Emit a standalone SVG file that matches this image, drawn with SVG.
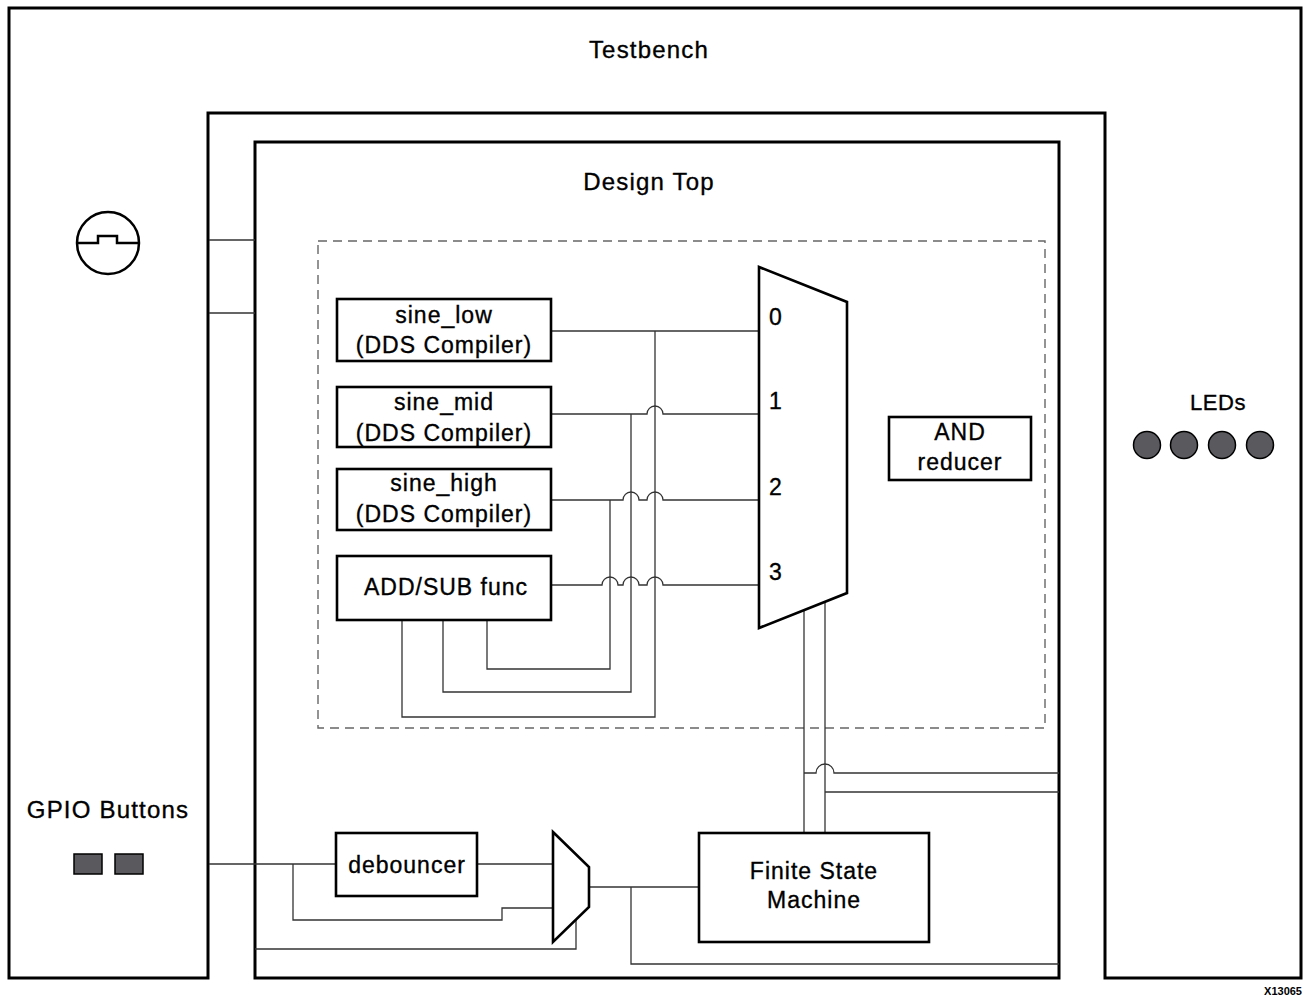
<svg xmlns="http://www.w3.org/2000/svg" width="1305" height="998" viewBox="0 0 1305 998">
<style>
.frame{fill:none;stroke:#000;stroke-width:3}
.box{fill:#fff;stroke:#000;stroke-width:2.6}
.wire{fill:none;stroke:#333;stroke-width:1.3}
.dash{fill:none;stroke:#666;stroke-width:1.4;stroke-dasharray:9 6}
.t{font-family:"Liberation Sans",Arial,sans-serif;font-size:23px;letter-spacing:1px;fill:#000;stroke:#000;stroke-width:0.35;text-anchor:middle}
.title{font-family:"Liberation Sans",Arial,sans-serif;font-size:24px;letter-spacing:1.2px;fill:#000;stroke:#000;stroke-width:0.35;text-anchor:middle}
.led{fill:#5a5a5e;stroke:#000;stroke-width:1.5}
</style>
<rect width="1305" height="998" fill="#fff"/>
<g id="testbench">
<path class="frame" d="M9,8 H1301 V978 H1105 V113 H208 V978 H9 Z"/>
<text class="title" x="649" y="58">Testbench</text>
</g>
<g id="clock">
<circle cx="108" cy="243" r="31" fill="none" stroke="#000" stroke-width="2.5"/>
<path d="M77,243 H98 V236 H117 V243 H139" fill="none" stroke="#000" stroke-width="2.5"/>
</g>
<g id="leds">
<text class="title" style="font-size:22px;letter-spacing:0.5px" x="1218" y="410">LEDs</text>
<circle class="led" cx="1147" cy="445" r="13.5"/>
<circle class="led" cx="1184" cy="445" r="13.5"/>
<circle class="led" cx="1222" cy="445" r="13.5"/>
<circle class="led" cx="1260" cy="445" r="13.5"/>
</g>
<g id="gpio">
<text class="title" x="108" y="818">GPIO Buttons</text>
<rect x="74" y="854" width="28" height="20" fill="#5a5a5e" stroke="#000" stroke-width="1.5"/>
<rect x="115" y="854" width="28" height="20" fill="#5a5a5e" stroke="#000" stroke-width="1.5"/>
</g>
<g id="design-top">
<rect class="frame" x="255" y="142" width="804" height="836"/>
<text class="title" x="649" y="190">Design Top</text>
</g>
<g id="dds-region">
<rect class="dash" x="318" y="241" width="727" height="487"/>
</g>
<g id="connectors">
<path class="wire" d="M209,240 H255 M209,313 H255"/>
<path class="wire" d="M551,331 H759"/>
<path class="wire" d="M551,414 H647 A8,8 0 0 1 663,414 H759"/>
<path class="wire" d="M551,500 H623 A8,8 0 0 1 639,500 H647 A8,8 0 0 1 663,500 H759"/>
<path class="wire" d="M551,585 H602 A8,8 0 0 1 618,585 H623 A8,8 0 0 1 639,585 H647 A8,8 0 0 1 663,585 H759"/>
<path class="wire" d="M487,620 V669 H610 V500"/>
<path class="wire" d="M443,620 V692 H631 V414"/>
<path class="wire" d="M402,620 V717 H655 V331"/>
<path class="wire" d="M804,610 V833"/>
<path class="wire" d="M825,602 V833"/>
<path class="wire" d="M804,773 H816 A9,9 0 0 1 834,773 H1059"/>
<path class="wire" d="M825,792 H1059"/>
<path class="wire" d="M209,864 H336 M477,864 H553"/>
<path class="wire" d="M293,864 V920 H502 V908 H553"/>
<path class="wire" d="M255,949 H576 V920"/>
<path class="wire" d="M589,887 H699"/>
<path class="wire" d="M631,887 V964 H1059"/>
</g>
<g id="sine_low">
<rect class="box" x="337" y="299" width="214" height="62"/>
<text class="t" x="444" y="323">sine_low</text>
<text class="t" x="444" y="353">(DDS Compiler)</text>
</g>
<g id="sine_mid">
<rect class="box" x="337" y="387" width="214" height="60"/>
<text class="t" x="444" y="410">sine_mid</text>
<text class="t" x="444" y="441">(DDS Compiler)</text>
</g>
<g id="sine_high">
<rect class="box" x="337" y="469" width="214" height="61"/>
<text class="t" x="444" y="491">sine_high</text>
<text class="t" x="444" y="522">(DDS Compiler)</text>
</g>
<g id="addsub">
<rect class="box" x="337" y="556" width="214" height="64"/>
<text class="t" x="446" y="595">ADD/SUB func</text>
</g>
<g id="mux">
<path class="box" d="M759,267 L847,302 V593 L759,628 Z"/>
<text class="t" x="776" y="325">0</text>
<text class="t" x="776" y="409">1</text>
<text class="t" x="776" y="495">2</text>
<text class="t" x="776" y="580">3</text>
</g>
<g id="and-reducer">
<rect class="box" x="889" y="417" width="142" height="63"/>
<text class="t" x="960" y="440">AND</text>
<text class="t" x="960" y="470">reducer</text>
</g>
<g id="debouncer">
<rect class="box" x="336" y="833" width="141" height="63"/>
<text class="t" x="407" y="873">debouncer</text>
</g>
<g id="small-mux">
<path class="box" d="M553,832 L589,867 V907 L553,942 Z"/>
</g>
<g id="fsm">
<rect class="box" x="699" y="833" width="230" height="109"/>
<text class="t" x="814" y="879">Finite State</text>
<text class="t" x="814" y="908">Machine</text>
</g>
<text x="1302" y="995" font-family="Liberation Sans,Arial,sans-serif" font-size="11" font-weight="bold" text-anchor="end">X13065</text>
</svg>
